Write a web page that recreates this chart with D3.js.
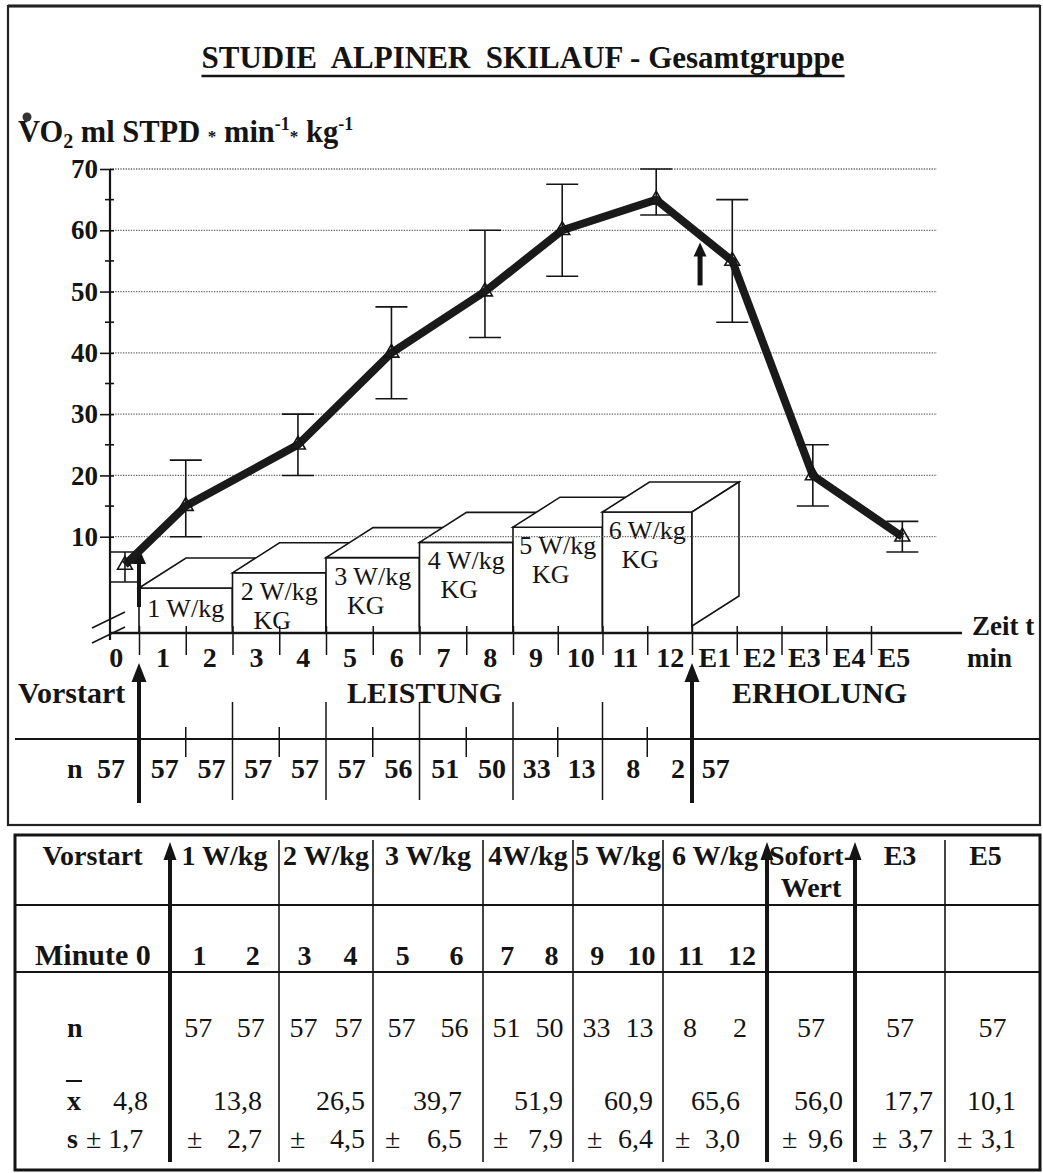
<!DOCTYPE html>
<html>
<head>
<meta charset="utf-8">
<script src="https://cdn.jsdelivr.net/npm/d3@7"></script>
<style>
  html, body { margin: 0; padding: 0; background: #fff; }
  svg text { font-family: "Liberation Serif", "Times New Roman", serif; fill: #141414; }
</style>
</head>
<body>
<svg id="chart" width="1043" height="1173"></svg>
<script>
// ---------- data ----------
const minuteLabels = ["0","1","2","3","4","5","6","7","8","9","10","11","12","E1","E2","E3","E4","E5"];
const yTicks = [10, 20, 30, 40, 50, 60, 70];
const yMinorTicks = [15, 25, 35, 45, 55, 65];

// plotted VO2 course (minute position on the time axis, mean, whisker ends)
const pointMinute = [0.2, 1.5, 3.9, 5.9, 7.9, 9.6, 11.7, 13.4, 15.2, 17.2];
const vo2Plotted  = [5.4, 15, 25, 40, 50, 60, 65, 55, 20, 10];
const errLow      = [2.6, 10, 20, 32.5, 42.5, 52.5, 62.5, 45, 15, 7.5];
const errHigh     = [7.5, 22.5, 30, 47.5, 60, 67.5, 70, 65, 25, 12.5];

// load steps of the protocol
const stageLevel  = [1, 2, 3, 4, 5, 6];
const stageLabels = ["1 W/kg","2 W/kg","3 W/kg","4 W/kg","5 W/kg","6 W/kg"];
const stageUnit   = ["","KG","KG","KG","KG","KG"];

// subjects per minute (0..12, E1)
const nPerMinute = [57,57,57,57,57,57,56,51,50,33,13,8,2,57];

// summary table
const tableHeads   = [["Vorstart"],["1 W/kg"],["2 W/kg"],["3 W/kg"],["4W/kg"],["5 W/kg"],["6 W/kg"],["Sofort-","Wert"],["E3"],["E5"]];
const tableMinutes = [[],["1","2"],["3","4"],["5","6"],["7","8"],["9","10"],["11","12"],[],[],[]];
const tableN       = [[],["57","57"],["57","57"],["57","56"],["51","50"],["33","13"],["8","2"],["57"],["57"],["57"]];
const tableMean    = ["4,8","13,8","26,5","39,7","51,9","60,9","65,6","56,0","17,7","10,1"];
const tableSD      = ["1,7","2,7","4,5","6,5","7,9","6,4","3,0","9,6","3,7","3,1"];

// ---------- layout ----------
const W = 1043, H = 1173;
const axisX = 110;          // vertical axis position
const baseY = 633;          // time axis position (broken axis below 0)
const gridRight = 937;
const ink = "#141414";
const serif = '"Liberation Serif","Times New Roman",serif';

const svg = d3.select("#chart");
svg.append("rect").attr("width", W).attr("height", H).attr("fill", "#fff");

const y = d3.scaleLinear().domain([0, 70]).range([598, 169]);
const x = d3.scaleLinear().domain([0.5, 8.5, 16.5]).range([139, 513, 871]);
const stepH = d3.scaleLinear().domain([1, 6]).range([45, 121]);
const depth = { dx: 47, dy: -30 };

function arrow(g, cx, yBottom, yTip, shaft, headW, headH) {
  g.append("line").attr("x1", cx).attr("x2", cx)
    .attr("y1", yBottom).attr("y2", yTip + headH - 1)
    .attr("stroke", ink).attr("stroke-width", shaft);
  g.append("path")
    .attr("d", `M${cx},${yTip} L${cx - headW / 2},${yTip + headH} L${cx + headW / 2},${yTip + headH} Z`)
    .attr("fill", ink);
}

// frame of the chart panel
svg.append("rect").attr("x", 8).attr("y", 6).attr("width", 1032).attr("height", 819)
  .attr("fill", "none").attr("stroke", "#222").attr("stroke-width", 2.2);
svg.append("line").attr("x1", 8).attr("x2", 1040).attr("y1", 6).attr("y2", 6)
  .attr("stroke", "#222").attr("stroke-width", 3);

// title
const title = svg.append("text").attr("x", 523).attr("y", 68)
  .attr("text-anchor", "middle").attr("font-size", 31).attr("font-weight", "bold")
  .style("white-space", "pre").text("STUDIE  ALPINER  SKILAUF - Gesamtgruppe");
const tb = title.node().getBBox();
svg.append("line").attr("x1", tb.x).attr("x2", tb.x + tb.width)
  .attr("y1", 76).attr("y2", 76).attr("stroke", ink).attr("stroke-width", 2.6);

// y-axis label: V̇O2 ml STPD * min-1 * kg-1
const yl = svg.append("text").attr("x", 18).attr("y", 142)
  .attr("font-size", 30.5).attr("font-weight", "bold");
yl.append("tspan").text("VO");
yl.append("tspan").attr("font-size", 20).attr("dy", 6).text("2");
yl.append("tspan").attr("dy", -6).style("white-space", "pre").text(" ml STPD ");
yl.append("tspan").attr("font-size", 17).text("*");
yl.append("tspan").style("white-space", "pre").text(" min");
yl.append("tspan").attr("font-size", 18).attr("dy", -12).text("-1");
yl.append("tspan").attr("font-size", 17).attr("dy", 12).text("*");
yl.append("tspan").style("white-space", "pre").text(" kg");
yl.append("tspan").attr("font-size", 18).attr("dy", -12).text("-1");
svg.append("circle").attr("cx", 27).attr("cy", 117).attr("r", 4.5).attr("fill", "#333");

// load-step boxes
const boxes = svg.append("g");
stageLevel.forEach((w, i) => {
  const x0 = x(2 * w - 1.5), x1 = x(2 * w + 0.5), top = baseY - stepH(w);
  const g = boxes.append("g").attr("fill", "#fff").attr("stroke", ink).attr("stroke-width", 1.6);
  g.append("rect").attr("x", x0).attr("y", top).attr("width", x1 - x0).attr("height", baseY - top);
  g.append("path").attr("d",
    `M${x0},${top} L${x0 + depth.dx},${top + depth.dy} L${x1 + depth.dx},${top + depth.dy} L${x1},${top} Z`);
  g.append("path").attr("d",
    `M${x1},${top} L${x1 + depth.dx},${top + depth.dy} L${x1 + depth.dx},${baseY - 7 + depth.dy} L${x1},${baseY - 7} Z`);
  const cx = (x0 + x1) / 2;
  boxes.append("text").attr("x", cx).attr("y", top + (stageUnit[i] ? 27 : 29))
    .attr("text-anchor", "middle").attr("font-size", 26).text(stageLabels[i]);
  if (stageUnit[i]) {
    boxes.append("text").attr("x", cx - 7).attr("y", top + 56)
      .attr("text-anchor", "middle").attr("font-size", 26).text(stageUnit[i]);
  }
});

// dotted grid
svg.append("g").selectAll("line").data(yTicks).join("line")
  .attr("x1", axisX).attr("x2", gridRight)
  .attr("y1", d => y(d)).attr("y2", d => y(d))
  .attr("stroke", "#666").attr("stroke-width", 1.3).attr("stroke-dasharray", "1.3 1.3");

// y axis
const yAxis = svg.append("g").attr("transform", `translate(${axisX},0)`)
  .call(d3.axisLeft(y).tickValues(yTicks).tickSizeInner(10).tickSizeOuter(0).tickPadding(2));
yAxis.select(".domain").remove();
yAxis.selectAll(".tick line").attr("x1", 4).attr("stroke", ink).attr("stroke-width", 1.6);
yAxis.selectAll(".tick text").attr("font-family", serif).attr("font-size", 27)
  .attr("font-weight", "bold").attr("fill", ink);
svg.append("g").selectAll("line").data(yMinorTicks).join("line")
  .attr("x1", axisX - 5).attr("x2", axisX + 4)
  .attr("y1", d => y(d)).attr("y2", d => y(d))
  .attr("stroke", ink).attr("stroke-width", 1.6);
svg.append("line").attr("x1", axisX).attr("x2", axisX).attr("y1", y(70)).attr("y2", 640)
  .attr("stroke", ink).attr("stroke-width", 2.2);

// axis break marks
[0, 15].forEach(off => {
  svg.append("line").attr("x1", 92).attr("y1", 628 + off).attr("x2", 125).attr("y2", 612 + off)
    .attr("stroke", ink).attr("stroke-width", 1.6);
});

// time axis
svg.append("line").attr("x1", axisX).attr("x2", 962).attr("y1", baseY).attr("y2", baseY)
  .attr("stroke", ink).attr("stroke-width", 2.4);
const boundaries = d3.range(0.5, 17, 1);
const xTicks = svg.append("g").attr("transform", `translate(0,${baseY})`)
  .call(d3.axisBottom(x).tickValues(boundaries).tickFormat("").tickSizeOuter(0).tickSizeInner(22));
xTicks.select(".domain").remove();
xTicks.selectAll(".tick line").attr("y1", -7).attr("stroke", ink).attr("stroke-width", 1.5);
const xLabels = svg.append("g").attr("transform", `translate(0,${baseY})`)
  .call(d3.axisBottom(x).tickValues(d3.range(minuteLabels.length))
    .tickFormat(i => minuteLabels[i]).tickSize(0).tickPadding(14));
xLabels.select(".domain").remove();
xLabels.selectAll("text").attr("font-family", serif).attr("font-size", 28)
  .attr("font-weight", "bold").attr("fill", ink);

svg.append("text").attr("x", 972).attr("y", 635).attr("font-size", 27).attr("font-weight", "bold").text("Zeit t");
svg.append("text").attr("x", 967).attr("y", 667).attr("font-size", 27).attr("font-weight", "bold").text("min");

// error bars
const eb = svg.append("g").attr("stroke", ink).attr("stroke-width", 1.6);
pointMinute.forEach((t, i) => {
  const cx = x(t);
  eb.append("line").attr("x1", cx).attr("x2", cx).attr("y1", y(errLow[i])).attr("y2", y(errHigh[i]));
  [errLow[i], errHigh[i]].forEach(v => {
    eb.append("line").attr("x1", cx - 16).attr("x2", cx + 16).attr("y1", y(v)).attr("y2", y(v));
  });
});

// start arrow inside the plot, and the short marker arrow after the last stage
arrow(svg, x(0.5), 607, 548, 4, 14, 16);
arrow(svg, x(12.68), y(51), y(58), 5, 13, 14);

// VO2 course
const pts = pointMinute.map((t, i) => [x(t), y(vo2Plotted[i])]);
svg.append("path").attr("d", d3.line()(pts))
  .attr("fill", "none").attr("stroke", "#1a1a1a").attr("stroke-width", 8)
  .attr("stroke-linejoin", "miter");
svg.append("g").selectAll("path").data(pts).join("path")
  .attr("transform", d => `translate(${d[0]},${d[1]})`)
  .attr("d", d3.symbol(d3.symbolTriangle, 95))
  .attr("fill", "none").attr("stroke", ink).attr("stroke-width", 1.6);

// phase labels
svg.append("text").attr("x", 18).attr("y", 703).attr("font-size", 30).attr("font-weight", "bold").text("Vorstart");
svg.append("text").attr("x", 347).attr("y", 703).attr("font-size", 30).attr("font-weight", "bold").text("LEISTUNG");
svg.append("text").attr("x", 732).attr("y", 703).attr("font-size", 30).attr("font-weight", "bold").text("ERHOLUNG");

// n strip
svg.append("line").attr("x1", 15).attr("x2", 1040).attr("y1", 739).attr("y2", 739)
  .attr("stroke", ink).attr("stroke-width", 2);
const groupEdges = [2.5, 4.5, 6.5, 8.5, 10.5];
const midEdges = [1.5, 3.5, 5.5, 7.5, 9.5, 11.5];
svg.append("g").selectAll("line").data(groupEdges).join("line")
  .attr("x1", d => x(d)).attr("x2", d => x(d)).attr("y1", 702).attr("y2", 800)
  .attr("stroke", ink).attr("stroke-width", 1.5);
svg.append("g").selectAll("line").data(midEdges).join("line")
  .attr("x1", d => x(d)).attr("x2", d => x(d)).attr("y1", 727).attr("y2", 757)
  .attr("stroke", ink).attr("stroke-width", 1.5);
svg.append("text").attr("x", 67).attr("y", 778).attr("font-size", 28).attr("font-weight", "bold").text("n");
svg.append("g").selectAll("text").data(nPerMinute).join("text")
  .attr("x", (d, m) => x(m + 0.5) - (m === 0 ? 14 : 7)).attr("y", 778)
  .attr("text-anchor", "end").attr("font-size", 28).attr("font-weight", "bold").text(d => d);

arrow(svg, x(0.5), 803, 663, 4, 15, 19);
arrow(svg, x(12.5), 803, 663, 4, 15, 19);

// ---------- table ----------
const colEdges = [15, 170, 279, 373, 483, 573, 663, 767, 855, 945, 1040];
const valueInset = [0, 17, 8, 21, 10, 10, 27, 12, 12, 24];  // right inset of the value columns
const plusInset  = [0, 17, 11, 12, 10, 14, 12, 15, 17, 12];
const tTop = 835, tBot = 1170, row1 = 905, row2 = 972;
const tab = svg.append("g");
tab.append("rect").attr("x", 15).attr("y", tTop).attr("width", 1025).attr("height", tBot - tTop)
  .attr("fill", "none").attr("stroke", ink).attr("stroke-width", 3);
[row1, row2].forEach(ry => tab.append("line").attr("x1", 15).attr("x2", 1040)
  .attr("y1", ry).attr("y2", ry).attr("stroke", ink).attr("stroke-width", 2));
const arrowCols = [1, 7, 8];
colEdges.slice(1, -1).forEach((cx, k) => {
  const c = k + 1;
  if (arrowCols.includes(c)) arrow(tab, cx, 1162, 842, 4, 13, 18);
  else tab.append("line").attr("x1", cx).attr("x2", cx).attr("y1", 840).attr("y2", 1162)
    .attr("stroke", ink).attr("stroke-width", 1.6);
});

tableHeads.forEach((lines, c) => {
  const cx = (colEdges[c] + colEdges[c + 1]) / 2 - (c === 9 ? 7 : 0);
  lines.forEach((s, j) => {
    tab.append("text").attr("x", cx).attr("y", 865 + j * 32)
      .attr("text-anchor", "middle").attr("font-size", 28).attr("font-weight", "bold").text(s);
  });
});
tab.append("text").attr("x", 35).attr("y", 965).attr("font-size", 30).attr("font-weight", "bold").text("Minute 0");
tableMinutes.forEach((pair, c) => {
  const l = colEdges[c], r = colEdges[c + 1];
  pair.forEach((s, j) => {
    tab.append("text").attr("x", l + (r - l) * (j ? 0.76 : 0.27)).attr("y", 965)
      .attr("text-anchor", "middle").attr("font-size", 28).attr("font-weight", "bold").text(s);
  });
});

// n / mean / sd rows
tab.append("text").attr("x", 67).attr("y", 1037).attr("font-size", 28).attr("font-weight", "bold").text("n");
tableN.forEach((vals, c) => {
  const l = colEdges[c], r = colEdges[c + 1];
  vals.forEach((s, j) => {
    const fx = vals.length === 1 ? 0.5 : (j ? 0.74 : 0.26);
    tab.append("text").attr("x", l + (r - l) * fx).attr("y", 1037)
      .attr("text-anchor", "middle").attr("font-size", 28).text(s);
  });
});

tab.append("text").attr("x", 67).attr("y", 1110).attr("font-size", 28).attr("font-weight", "bold").text("x");
tab.append("line").attr("x1", 66).attr("x2", 82).attr("y1", 1081).attr("y2", 1081)
  .attr("stroke", ink).attr("stroke-width", 2);
tab.append("text").attr("x", 67).attr("y", 1148).attr("font-size", 28).attr("font-weight", "bold").text("s");

tableMean.forEach((s, c) => {
  if (c === 0) {
    tab.append("text").attr("x", 113).attr("y", 1110).attr("font-size", 28).text(s);
  } else {
    tab.append("text").attr("x", colEdges[c + 1] - valueInset[c]).attr("y", 1110)
      .attr("text-anchor", "end").attr("font-size", 28).text(s);
  }
});
tableSD.forEach((s, c) => {
  if (c === 0) {
    tab.append("text").attr("x", 86).attr("y", 1148).attr("font-size", 28)
      .style("white-space", "pre").text("± " + s);
  } else {
    tab.append("text").attr("x", colEdges[c] + plusInset[c]).attr("y", 1148).attr("font-size", 28).text("±");
    tab.append("text").attr("x", colEdges[c + 1] - valueInset[c]).attr("y", 1148)
      .attr("text-anchor", "end").attr("font-size", 28).text(s);
  }
});
</script>
</body>
</html>
